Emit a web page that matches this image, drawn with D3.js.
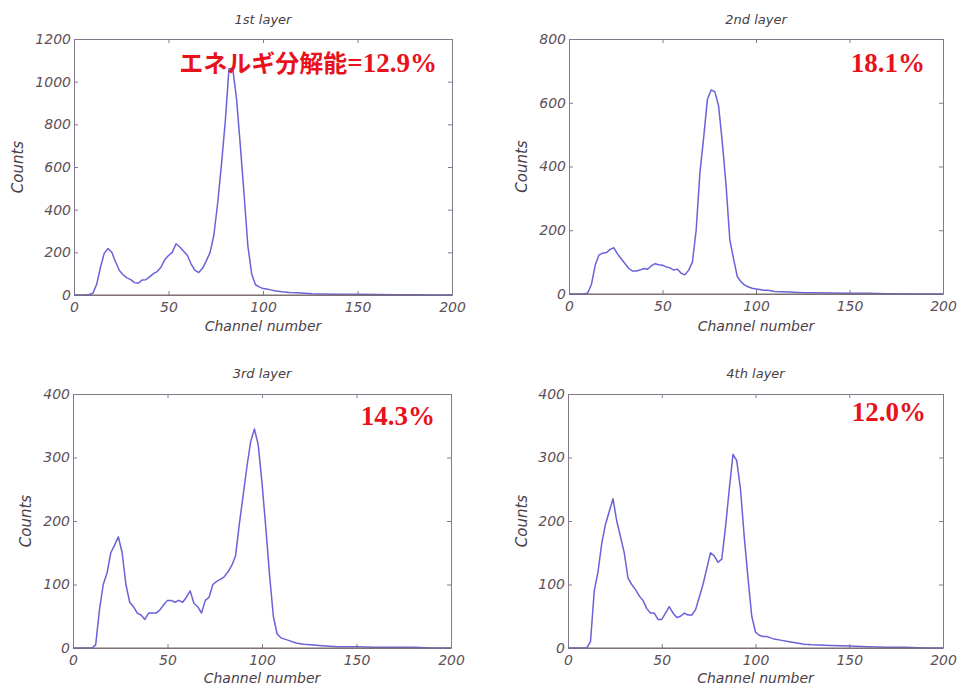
<!DOCTYPE html>
<html>
<head>
<meta charset="utf-8">
<script src="https://cdn.jsdelivr.net/npm/d3@7"></script>
<style>
  body { margin: 0; background: #fff; }
  svg text { font-family: "DejaVu Sans", sans-serif; }
</style>
</head>
<body>
<svg id="chart" width="959" height="688"></svg>
<script>
// channel numbers (shared by all layers)
const channels = [0,2,4,6,8,10,12,14,16,18,20,22,24,26,28,30,32,34,36,38,40,42,44,46,48,50,52,54,56,58,
  60,62,64,66,68,70,72,74,76,78,80,82,84,86,88,90,92,94,96,98,100,102,104,106,108,110,
  114,118,122,126,130,140,150,160,170,180,190,200];

// counts
const layer1 = [0,0,0,0,2,8,50,130,195,218, 200,155,115,95,80,72,58,55,70,72,
  85,100,110,130,165,185,200,240,225,205, 185,145,115,105,125,160,200,280,430,610,
  810,1060,1060,920,700,470,230,100,48,38, 30,28,24,20,18,15,
  12,10,8,6,5,4,3,2,1,1,0,0];
const layer2 = [0,0,0,0,0,3,30,90,122,128, 130,140,145,125,110,95,80,72,72,75,
  80,78,88,95,92,90,85,82,75,78, 65,60,75,100,200,380,490,610,640,635,
  590,475,340,170,110,55,38,28,22,18, 16,14,12,12,10,8,
  7,6,5,4,4,3,2,2,1,0,0,0];
const layer3 = [0,0,0,0,0,0,5,60,100,118, 150,162,175,150,100,72,65,55,52,45,
  55,55,55,60,68,75,75,72,75,72, 80,90,70,65,55,75,80,100,105,108,
  112,120,130,145,195,240,285,325,345,320, 260,190,115,50,22,16,
  12,8,6,5,4,2,2,1,1,1,0,0];
const layer4 = [0,0,0,0,0,0,10,90,120,165, 195,215,235,200,175,150,110,100,92,82,
  75,62,55,55,45,45,55,65,55,48, 50,55,52,52,60,80,100,125,150,145,
  135,140,190,250,305,295,250,175,110,50, 25,20,18,18,16,14,
  12,10,8,6,5,4,3,2,1,1,0,0];

const titles = ["1st layer", "2nd layer", "3rd layer", "4th layer"];
const yMax = [1200, 800, 400, 400];
const yTicks = [[0,200,400,600,800,1000,1200],[0,200,400,600,800],[0,100,200,300,400],[0,100,200,300,400]];
const xTicks = [0,50,100,150,200];
const resolution = ["エネルギ分解能=12.9%", "18.1%", "14.3%", "12.0%"];
const series = [layer1, layer2, layer3, layer4];

// panel boxes
const boxes = [
  {l: 74, r: 452, t: 39, b: 295, ylab: 18, xlab: 331, ttl: 24, resX: 437, resY: 72},
  {l: 569, r: 943, t: 39, b: 294, ylab: 522, xlab: 331, ttl: 24, resX: 925, resY: 72},
  {l: 73, r: 451, t: 394, b: 648, ylab: 26, xlab: 683, ttl: 378, resX: 435, resY: 425},
  {l: 568, r: 943, t: 394, b: 648, ylab: 522, xlab: 683, ttl: 378, resX: 926, resY: 421}
];

const svg = d3.select("#chart");
const frameColor = "#85788a";
const textColor = "#5e5058";

boxes.forEach(function(bx, i) {
  let g = svg.append("g").attr("class", "panel");

  let x = d3.scaleLinear().domain([0, 200]).range([bx.l, bx.r]);
  let y = d3.scaleLinear().domain([0, yMax[i]]).range([bx.b, bx.t]);

  // inward ticks on all four sides, like matlab
  let bottom = g.append("g").attr("transform", "translate(0," + bx.b + ")")
    .call(d3.axisBottom(x).tickValues(xTicks).tickSizeInner(-4).tickSizeOuter(0).tickPadding(7).tickFormat(d3.format("d")));
  let top = g.append("g").attr("transform", "translate(0," + bx.t + ")")
    .call(d3.axisTop(x).tickValues(xTicks).tickSizeInner(-4).tickSizeOuter(0).tickFormat(""));
  let left = g.append("g").attr("transform", "translate(" + bx.l + ",0)")
    .call(d3.axisLeft(y).tickValues(yTicks[i]).tickSizeInner(-4).tickSizeOuter(0).tickPadding(3).tickFormat(d3.format("d")));
  let right = g.append("g").attr("transform", "translate(" + bx.r + ",0)")
    .call(d3.axisRight(y).tickValues(yTicks[i]).tickSizeInner(-4).tickSizeOuter(0).tickFormat(""));

  [bottom, top, left, right].forEach(function(a) {
    a.select(".domain").attr("stroke", frameColor);
    a.selectAll(".tick line").attr("stroke", frameColor);
    a.selectAll(".tick text")
      .attr("fill", textColor)
      .style("font-size", "14px")
      .style("font-style", "italic");
  });

  // histogram line
  let pts = channels.map((c, k) => [c, series[i][k]]);
  let line = d3.line()
    .x(d => x(d[0]))
    .y(d => y(d[1]));

  g.append("path")
    .datum(pts)
    .attr("fill", "none")
    .attr("stroke", "#6a62d8")
    .attr("stroke-width", 1.5)
    .attr("stroke-linejoin", "round")
    .attr("d", line);

  // redraw the zero line on top of the data
  g.append("line")
    .attr("x1", bx.l).attr("x2", bx.r)
    .attr("y1", bx.b).attr("y2", bx.b)
    .attr("stroke", "#7a6a62").attr("stroke-width", 1);

  g.append("text")
    .attr("x", (bx.l + bx.r) / 2).attr("y", bx.ttl)
    .attr("text-anchor", "middle")
    .attr("fill", "#4a4048")
    .style("font-size", "13px").style("font-style", "italic")
    .text(titles[i]);

  g.append("text")
    .attr("x", (bx.l + bx.r) / 2).attr("y", bx.xlab)
    .attr("text-anchor", "middle")
    .attr("fill", "#4a4048")
    .style("font-size", "14px").style("font-style", "italic")
    .text("Channel number");

  g.append("text")
    .attr("transform", "translate(" + bx.ylab + "," + ((bx.t + bx.b) / 2) + ") rotate(-90)")
    .attr("text-anchor", "middle")
    .attr("dominant-baseline", "central")
    .attr("fill", "#4a4048")
    .style("font-size", "15px").style("font-style", "italic")
    .text("Counts");

  // energy resolution label
  let res = g.append("text")
    .attr("x", bx.resX).attr("y", bx.resY)
    .attr("text-anchor", "end")
    .attr("fill", "#e8121c")
    .style("font-weight", "bold");
  let parts = resolution[i].split("=");
  if (parts.length > 1) {
    res.append("tspan")
      .style("font-family", "'Noto Sans CJK JP', sans-serif")
      .style("font-size", "24px")
      .text(parts[0]);
    res.append("tspan")
      .style("font-family", "'Liberation Serif', serif")
      .style("font-size", "27px")
      .text("=" + parts[1]);
  } else {
    res.append("tspan")
      .style("font-family", "'Liberation Serif', serif")
      .style("font-size", "27px")
      .text(parts[0]);
  }
});
</script>
</body>
</html>
